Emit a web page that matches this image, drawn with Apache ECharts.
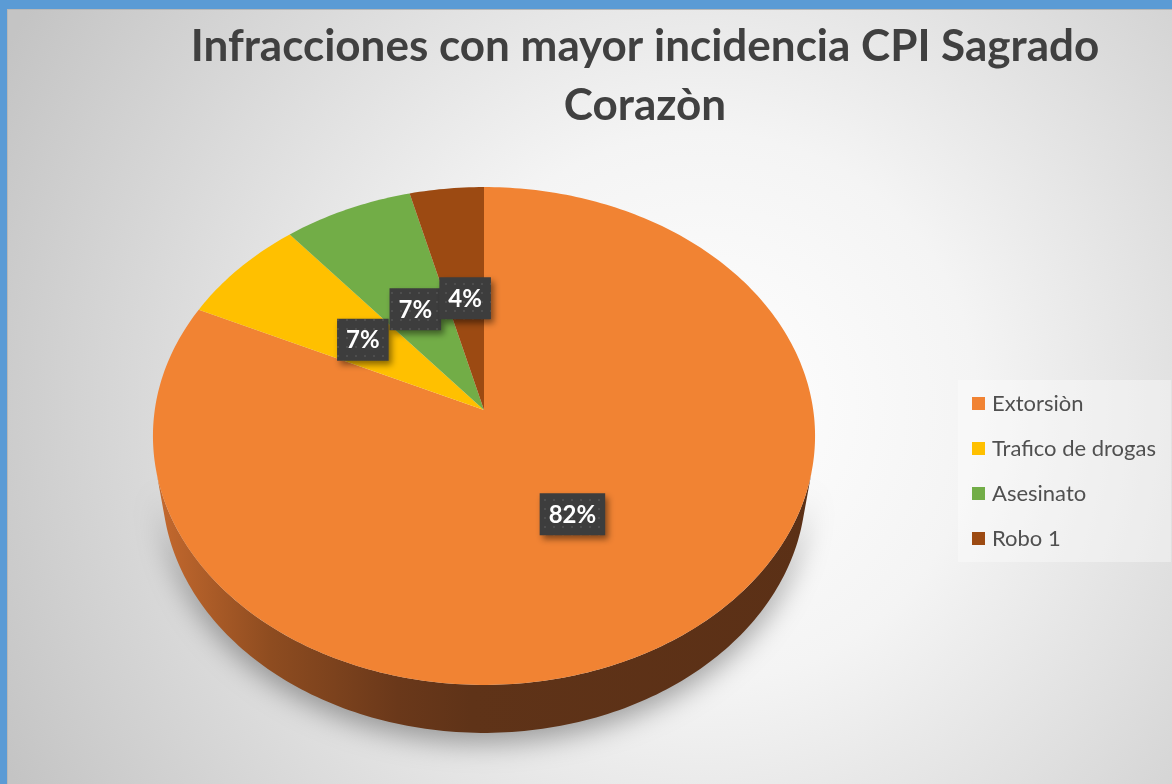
<!DOCTYPE html>
<html>
<head>
<meta charset="utf-8">
<script src="https://cdn.jsdelivr.net/npm/echarts@6/dist/echarts.min.js"></script>
<style>
  html, body { margin: 0; padding: 0; }
  #chart { width: 1172px; height: 784px; }
</style>
</head>
<body>
<div id="chart"></div>
<script>
const categories = ['Extorsiòn', 'Trafico de drogas', 'Asesinato', 'Robo 1']
const values = [82, 7, 7, 4]
const colors = ['#f18333', '#ffc000', '#72ad47', '#9c4a12']
const titleText = 'Infracciones con mayor incidencia CPI Sagrado\nCorazòn'

// excel style 3d pie: a flat cylinder seen through a perspective camera
const cx = 484, cy = 410
const camDist = 6.36, pitch = 48.4 * Math.PI / 180, focal = 2094, thick = 0.238
const labelRadius = 0.48

function project(X, Y, Z) {
  const yc = Y * Math.cos(pitch) - Z * Math.sin(pitch)
  const zc = camDist - Y * Math.sin(pitch) - Z * Math.cos(pitch)
  return [cx + focal * X / zc, cy - focal * yc / zc]
}
// angle measured clockwise from the back of the pie
function rim(theta, r, Y) {
  return project(r * Math.sin(theta), Y, -r * Math.cos(theta))
}
function arc(a0, a1, r, Y) {
  const pts = []
  const n = Math.max(2, Math.ceil((a1 - a0) / (Math.PI / 180)))
  for (let k = 0; k <= n; k++) pts.push(rim(a0 + (a1 - a0) * k / n, r, Y))
  return pts
}

// dotted dark texture for the data labels
const tex = document.createElement('canvas')
tex.width = 9; tex.height = 9
const tctx = tex.getContext('2d')
tctx.fillStyle = '#3d3d3d'; tctx.fillRect(0, 0, 9, 9)
tctx.fillStyle = '#4e4e4e'; tctx.fillRect(4, 4, 2, 2)
const measure = document.createElement('canvas').getContext('2d')
const labelFont = 'bold 24px Lato'
measure.font = labelFont

const total = values.reduce((a, b) => a + b, 0)
const zVis = 1 / (camDist * Math.cos(pitch))
const sideFrom = Math.acos(-zVis), sideTo = 2 * Math.PI - Math.acos(-zVis)

function sliceRenderer(i) {
  return function (params, api) {
    let before = 0
    for (let j = 0; j < i; j++) before += values[j]
    const v = api.value(0)
    const a0 = before / total * 2 * Math.PI
    const a1 = (before + v) / total * 2 * Math.PI
    const children = []

    const s0 = Math.max(a0, sideFrom), s1 = Math.min(a1, sideTo)
    if (s1 > s0) {
      const top = arc(s0, s1, 1, 0)
      const bottom = arc(s0, s1, 1, -thick).reverse()
      children.push({
        type: 'polygon',
        shape: { points: top.concat(bottom) },
        style: {
          fill: new echarts.graphic.LinearGradient(150, 0, 820, 0, [
            { offset: 0, color: '#c86b2f' },
            { offset: 0.18, color: '#8e4c20' },
            { offset: 0.37, color: '#6a381a' },
            { offset: 0.48, color: '#5f3318' },
            { offset: 1, color: '#5b3016' }
          ], true),
          shadowBlur: 28,
          shadowOffsetY: 10,
          shadowColor: 'rgba(0,0,0,0.35)'
        }
      })
    }

    children.push({
      type: 'polygon',
      shape: { points: [[cx, cy]].concat(arc(a0, a1, 1, 0)) },
      style: { fill: colors[i] }
    })

    const pos = rim((a0 + a1) / 2, labelRadius, 0)
    const text = Math.round(v / total * 100) + '%'
    const w = measure.measureText(text).width + 18, h = 42
    children.push({
      type: 'rect',
      z2: 100 + i * 2,
      shape: { x: pos[0] - w / 2, y: pos[1] - h / 2, width: w, height: h },
      style: {
        fill: { image: tex, repeat: 'repeat' },
        shadowBlur: 6,
        shadowOffsetX: 3,
        shadowOffsetY: 4,
        shadowColor: 'rgba(0,0,0,0.45)'
      }
    })
    children.push({
      type: 'text',
      z2: 101 + i * 2,
      x: pos[0],
      y: pos[1] + 1,
      style: { text: text, fill: '#ffffff', font: labelFont, align: 'center', verticalAlign: 'middle' }
    })
    return { type: 'group', children: children }
  }
}

const chart = echarts.init(document.getElementById('chart'))
chart.setOption({
  animation: false,
  backgroundColor: {
    type: 'radial', x: 0.6, y: 0.52, r: 1,
    colorStops: [
      { offset: 0, color: '#ffffff' },
      { offset: 0.35, color: '#f4f4f4' },
      { offset: 1, color: '#c4c4c4' }
    ]
  },
  title: {
    text: titleText,
    left: 640,
    top: 12,
    textAlign: 'center',
    textStyle: { fontFamily: 'Lato', fontSize: 44, fontWeight: 'bold', color: '#404040', lineHeight: 59 }
  },
  legend: {
    orient: 'vertical',
    left: 958,
    top: 380,
    padding: [11, 15, 11, 14],
    itemWidth: 13,
    itemHeight: 13,
    itemGap: 20,
    icon: 'rect',
    backgroundColor: 'rgba(255,255,255,0.35)',
    textStyle: { fontFamily: 'Lato', fontSize: 22, color: '#505050', lineHeight: 25, padding: [0, 0, 0, 2] },
    data: categories
  },
  graphic: [
    { type: 'rect', shape: { x: 0, y: 0, width: 1172, height: 9 }, style: { fill: '#5b9bd5' } },
    { type: 'rect', shape: { x: 0, y: 0, width: 7, height: 784 }, style: { fill: '#5b9bd5' } },
    { type: 'rect', shape: { x: 7, y: 9, width: 1165, height: 1 }, style: { fill: '#b8b8b8' } },
    { type: 'rect', shape: { x: 7, y: 9, width: 1, height: 775 }, style: { fill: '#b8b8b8' } }
  ],
  series: categories.map((name, i) => ({
    type: 'custom',
    name: name,
    coordinateSystem: 'none',
    silent: true,
    itemStyle: { color: colors[i] },
    data: [[values[i]]],
    renderItem: sliceRenderer(i)
  }))
})
</script>
</body>
</html>
